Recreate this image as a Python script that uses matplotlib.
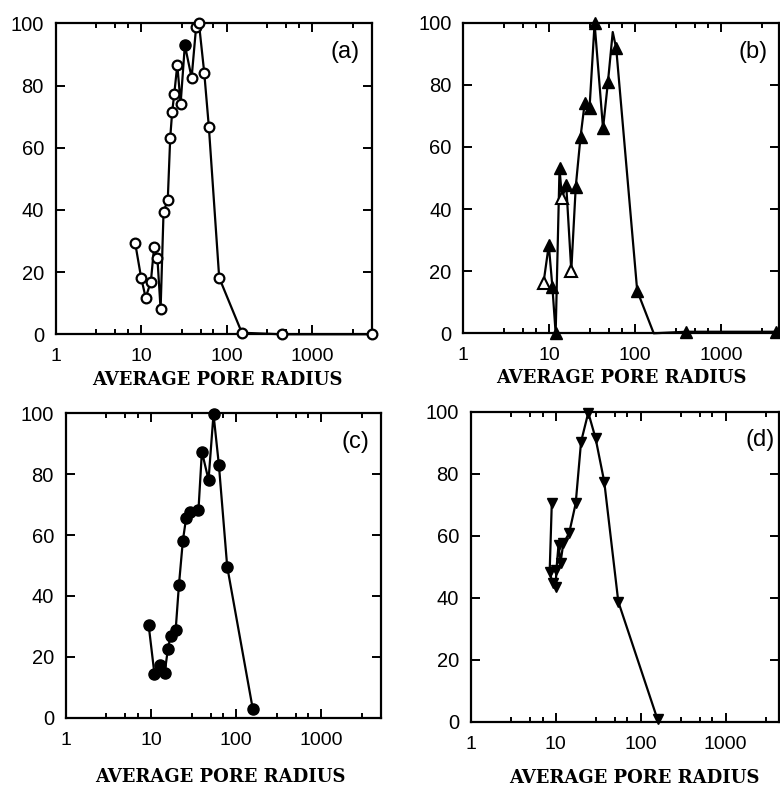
import matplotlib
matplotlib.use("Agg")
import matplotlib.pyplot as plt
from matplotlib.ticker import LogLocator, FixedLocator, FixedFormatter, NullFormatter

# (a) open circles
a_x = [8.5, 10.0, 11.3, 13.0, 14.2, 15.5, 16.9, 18.3, 20.5, 21.9, 23.1, 24.4, 26.5,
       29.0, 32.5, 39.0, 44.0, 47.5, 54.8, 62.0, 82.0, 151, 446, 5000]
a_y = [29.5, 18.2, 11.8, 16.9, 28.2, 24.6, 8.1, 39.4, 43.2, 63.2, 71.6, 77.2, 86.6,
       74.2, 93.0, 82.5, 98.8, 100, 84.1, 66.8, 18.2, 0.5, 0, 0]
a_filled = [14]

# (b) triangles up (some open); points 15 and 18 are curve-only
b_x = [8.6, 9.9, 10.9, 11.9, 13.2, 14.1, 15.8, 18.1, 20.4, 23.2, 25.9, 29.5, 33.8,
       42.4, 48.4, 55.0, 60.4, 106, 165, 395, 4420]
b_y = [16.3, 28.4, 15.0, 0, 53.1, 43.5, 47.7, 20.2, 47.2, 63.3, 74.0, 72.4, 99.8,
       66.0, 81.0, 97.0, 91.7, 13.7, 0, 0.5, 0.5]
b_curve_only = [15, 18]
b_open = [0, 5, 7]

# (c) filled circles
c_x = [9.4, 11.0, 12.9, 14.5, 15.8, 17.0, 19.5, 21.3, 23.7, 25.9, 28.9, 36.1, 39.6,
       47.4, 54.2, 62.7, 78.5, 157]
c_y = [30.4, 14.3, 17.3, 14.8, 22.5, 26.9, 28.8, 43.6, 58.2, 65.7, 67.7, 68.2, 87.4,
       78.1, 99.7, 83.0, 49.6, 2.7]

# (d) triangles down
d_x = [9.0, 8.5, 9.2, 10.0, 10.2, 10.8, 11.4, 12.3, 14.4, 17.2, 19.9, 24.2, 29.5,
       37.3, 54.6, 158]
d_y = [70.4, 48.4, 44.6, 43.5, 49.0, 57.0, 51.3, 57.5, 60.8, 70.4, 90.3, 99.7, 91.4,
       77.4, 38.7, 0.75]

xticks = [1, 10, 100, 1000]
xticklabels = ["1", "10", "100", "1000"]
yticks = [0, 20, 40, 60, 80, 100]
xlabel = "AVERAGE PORE RADIUS"

W, H = 780, 786


def rect(l, r, t, b):
    return [l / W, 1 - b / H, (r - l) / W, (b - t) / H]


def style_axes(ax, xmax):
    ax.set_xscale("log")
    ax.set_xlim(1, xmax)
    ax.set_ylim(0, 100)
    ax.xaxis.set_major_locator(FixedLocator(xticks))
    ax.xaxis.set_major_formatter(FixedFormatter(xticklabels))
    ax.xaxis.set_minor_locator(LogLocator(base=10, subs=(3, 5, 7)))
    ax.xaxis.set_minor_formatter(NullFormatter())
    ax.set_yticks(yticks)
    ax.set_yticklabels([str(v) for v in yticks])
    ax.tick_params(which="both", direction="in", top=True, right=True, width=1.4)
    ax.tick_params(which="major", length=6.5)
    ax.tick_params(axis="x", which="major", pad=10, labelsize=14)
    ax.tick_params(axis="y", which="major", pad=8.5, labelsize=14.5)
    ax.tick_params(which="minor", length=3.5)
    for s in ax.spines.values():
        s.set_linewidth(1.6)
    for lab in ax.get_xticklabels() + ax.get_yticklabels():
        lab.set_family("Liberation Sans")


plt.rcParams["font.family"] = ["Liberation Sans", "DejaVu Sans"]
fig = plt.figure(figsize=(7.8, 7.86), dpi=100)

ax_a = fig.add_axes(rect(55.7, 371.7, 23.3, 334.3))
ax_b = fig.add_axes(rect(463.3, 779, 22.7, 333.3))
ax_c = fig.add_axes(rect(65.7, 381, 413.3, 717.7))
ax_d = fig.add_axes(rect(470.7, 779, 411.7, 721.7))

# (a)
ax_a.plot(a_x, a_y, "-", color="black", lw=1.6, clip_on=False, zorder=2)
a_open = [i for i in range(len(a_x)) if i not in a_filled]
ax_a.plot([a_x[i] for i in a_open], [a_y[i] for i in a_open], "o", ms=7,
          mfc="white", mec="black", mew=1.6, clip_on=False, zorder=3)
ax_a.plot([a_x[i] for i in a_filled], [a_y[i] for i in a_filled], "o", ms=8,
          color="black", clip_on=False, zorder=3)
style_axes(ax_a, 5000)

# (b)
ax_b.plot(b_x, b_y, "-", color="black", lw=1.6, clip_on=False, zorder=2)
b_fill = [i for i in range(len(b_x)) if i not in b_curve_only and i not in b_open]
ax_b.plot([b_x[i] for i in b_fill], [b_y[i] for i in b_fill], "^", ms=8,
          color="black", clip_on=False, zorder=3)
ax_b.plot([b_x[i] for i in b_open], [b_y[i] for i in b_open], "^", ms=8,
          mfc="white", mec="black", mew=1.5, clip_on=False, zorder=3)
style_axes(ax_b, 4750)

# (c)
ax_c.plot(c_x, c_y, "-o", color="black", lw=1.6, ms=8, clip_on=False)
style_axes(ax_c, 5000)

# (d)
ax_d.plot(d_x, d_y, "-v", color="black", lw=1.6, ms=7.5, clip_on=False)
style_axes(ax_d, 4250)

for ax, lab, px, py in [(ax_a, "(a)", 0.915, 0.908), (ax_b, "(b)", 0.918, 0.906),
                        (ax_c, "(c)", 0.918, 0.906), (ax_d, "(d)", 0.938, 0.909)]:
    ax.text(px, py, lab, transform=ax.transAxes, ha="center", va="center",
            fontsize=17, family="Liberation Sans")

for cx, cy in [(217, 380), (621, 378), (220, 777), (634, 778)]:
    fig.text(cx / W, 1 - cy / H, xlabel, ha="center", va="center",
             fontsize=13, fontweight="bold", family="DejaVu Serif")

fig.savefig("out.png", dpi=100)
